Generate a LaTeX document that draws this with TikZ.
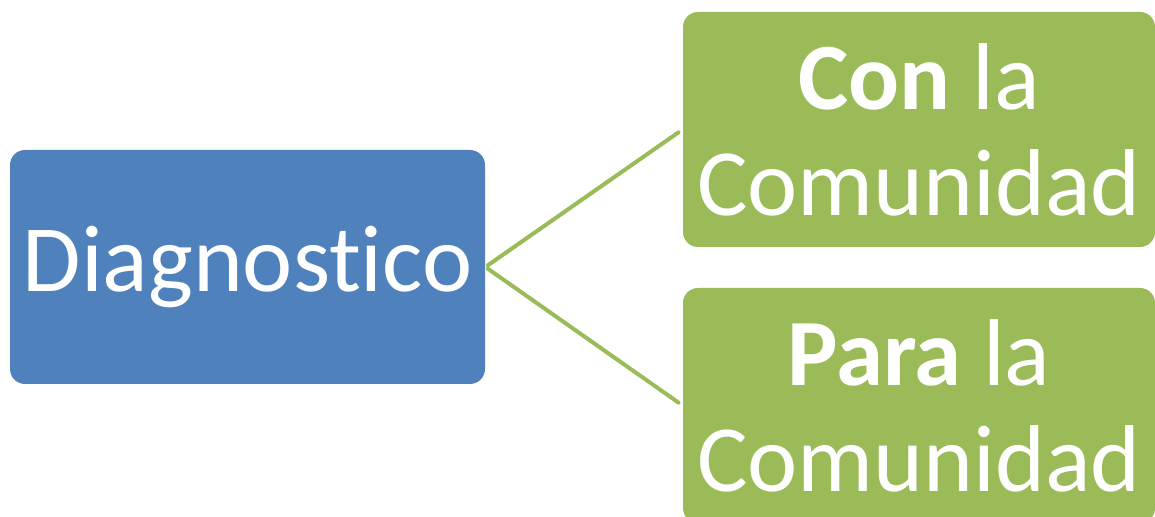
\documentclass[tikz,border=0pt]{standalone}
\usepackage{fontspec}
\setmainfont[Ligatures=NoCommon]{Carlito}
\definecolor{azul}{HTML}{4F81BD}
\definecolor{verde}{HTML}{9BBB59}
\begin{document}
\begin{tikzpicture}[x=0.5pt, y=0.5pt, line join=round,
			line cap=round,
			caja/.style={rounded corners=7.5pt, inner sep=0pt, text=white,
				align=center, font=\fontsize{47.5}{54}\selectfont},
			rama/.style={draw=verde, line width=2pt, shorten >=2.5pt, shorten <=1.5pt}]
			\useasboundingbox (0,0) rectangle (1155,517);
			\node[caja, fill=azul, minimum width=237.5pt, minimum height=117pt] (D) at (247.5,250) {Diagnostico};
			\node[caja, fill=verde, minimum width=236pt, minimum height=117.5pt] (C) at (919,387.5) {\textbf{Con} la\\[-1pt]Comunidad};
			\node[caja, fill=verde, minimum width=236pt, minimum height=117.5pt] (P) at (919,111.5) {\textbf{Para} la\\[-1pt]Comunidad};
			\foreach \n in {C,P}
			\path[rama] (D.east) -- (\n.west);
		\end{tikzpicture}
\end{document}
